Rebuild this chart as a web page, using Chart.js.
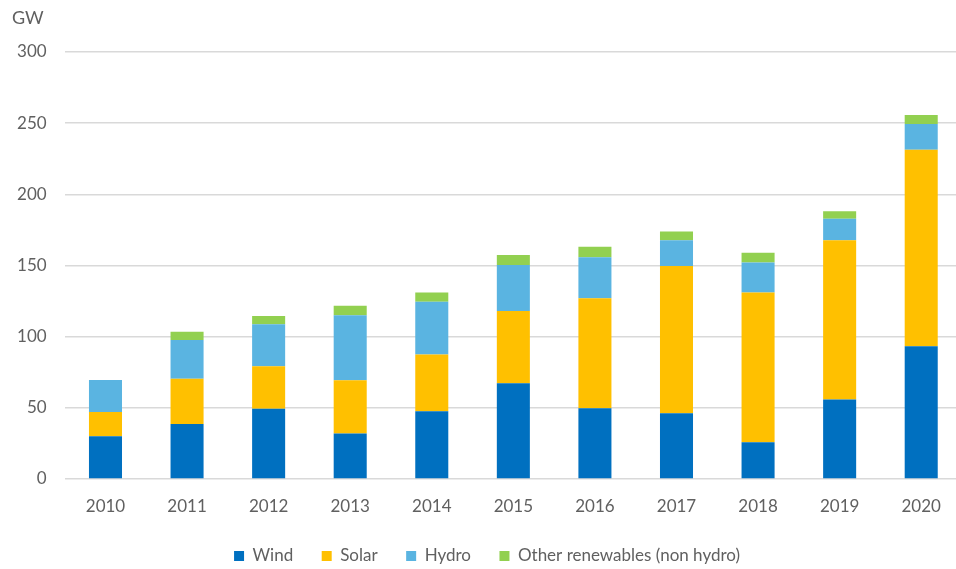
<!DOCTYPE html>
<html><head><meta charset="utf-8">
<script src="https://cdn.jsdelivr.net/npm/chart.js@4/dist/chart.umd.min.js"></script>
<style>html,body{margin:0;padding:0;background:#fff;overflow:hidden}#wrap{width:962px;height:569px}</style>
</head><body><div id="wrap"><canvas id="c"></canvas></div>
<script>
const years = ['2010','2011','2012','2013','2014','2015','2016','2017','2018','2019','2020'];
const wind  = [30, 38.7, 49.3, 31.9, 47.6, 67.3, 49.7, 46.2, 25.8, 55.8, 93.2];
const solar = [17, 31.7, 30.0, 37.5, 39.9, 50.7, 77.3, 103.5, 105.2, 112.0, 138.2];
const hydro = [22.5, 27.2, 29.4, 45.6, 37.1, 32.4, 28.8, 18.1, 21.1, 15.0, 18.1];
const other = [0, 5.9, 5.8, 6.8, 6.4, 6.9, 7.3, 6.1, 6.8, 5.4, 6.3];
const yTicks = [0, 50, 100, 150, 200, 250, 300];

const font = "Lato, 'Open Sans', sans-serif";
const txt = '#606060';
const legendHeight = {
  id: 'legendHeight',
  afterInit(chart) {
    const lg = chart.legend;
    if (!lg) return;
    const orig = lg.fit;
    lg.fit = function () { orig.call(this); this.height = 50; };
  }
};
new Chart(document.getElementById('c'), {
  type: 'bar',
  data: {
    labels: years,
    datasets: [
      {label: 'Wind', data: wind, backgroundColor: '#0070c0'},
      {label: 'Solar', data: solar, backgroundColor: '#ffc000'},
      {label: 'Hydro', data: hydro, backgroundColor: '#5ab4e1'},
      {label: 'Other renewables (non hydro)', data: other, backgroundColor: '#92d050'}
    ]
  },
  plugins: [legendHeight],
  options: {
    responsive: true, maintainAspectRatio: false, animation: false,
    layout: {padding: {left: 12, right: 0, top: 4, bottom: 0}},
    datasets: {bar: {barPercentage: 0.405, categoryPercentage: 1.0}},
    plugins: {
      title: {display: true, text: 'GW', align: 'start', color: txt,
        font: {family: font, size: 18, weight: 'normal'}, padding: {top: 3, bottom: 23.4}},
      legend: {position: 'bottom', labels: {boxWidth: 10, boxHeight: 10, color: txt,
        font: {family: font, size: 17}, padding: 28.5}},
      tooltip: {enabled: false}
    },
    scales: {
      x: {stacked: true, grid: {display: false, drawTicks: false}, border: {display: false},
        afterFit: s => { s.height = 40; },
        ticks: {color: txt, font: {family: font, size: 17}, padding: 17}},
      y: {stacked: true, min: 0, max: 300, afterBuildTicks: s => { s.ticks = yTicks.map(v => ({value: v})); },
        afterFit: s => { s.width = 52.7; },
        grid: {color: '#d9d9d9', lineWidth: 1.5, drawTicks: false}, border: {display: false},
        ticks: {color: txt, font: {family: font, size: 17}, padding: 18}}
    }
  }
});
</script></body></html>
